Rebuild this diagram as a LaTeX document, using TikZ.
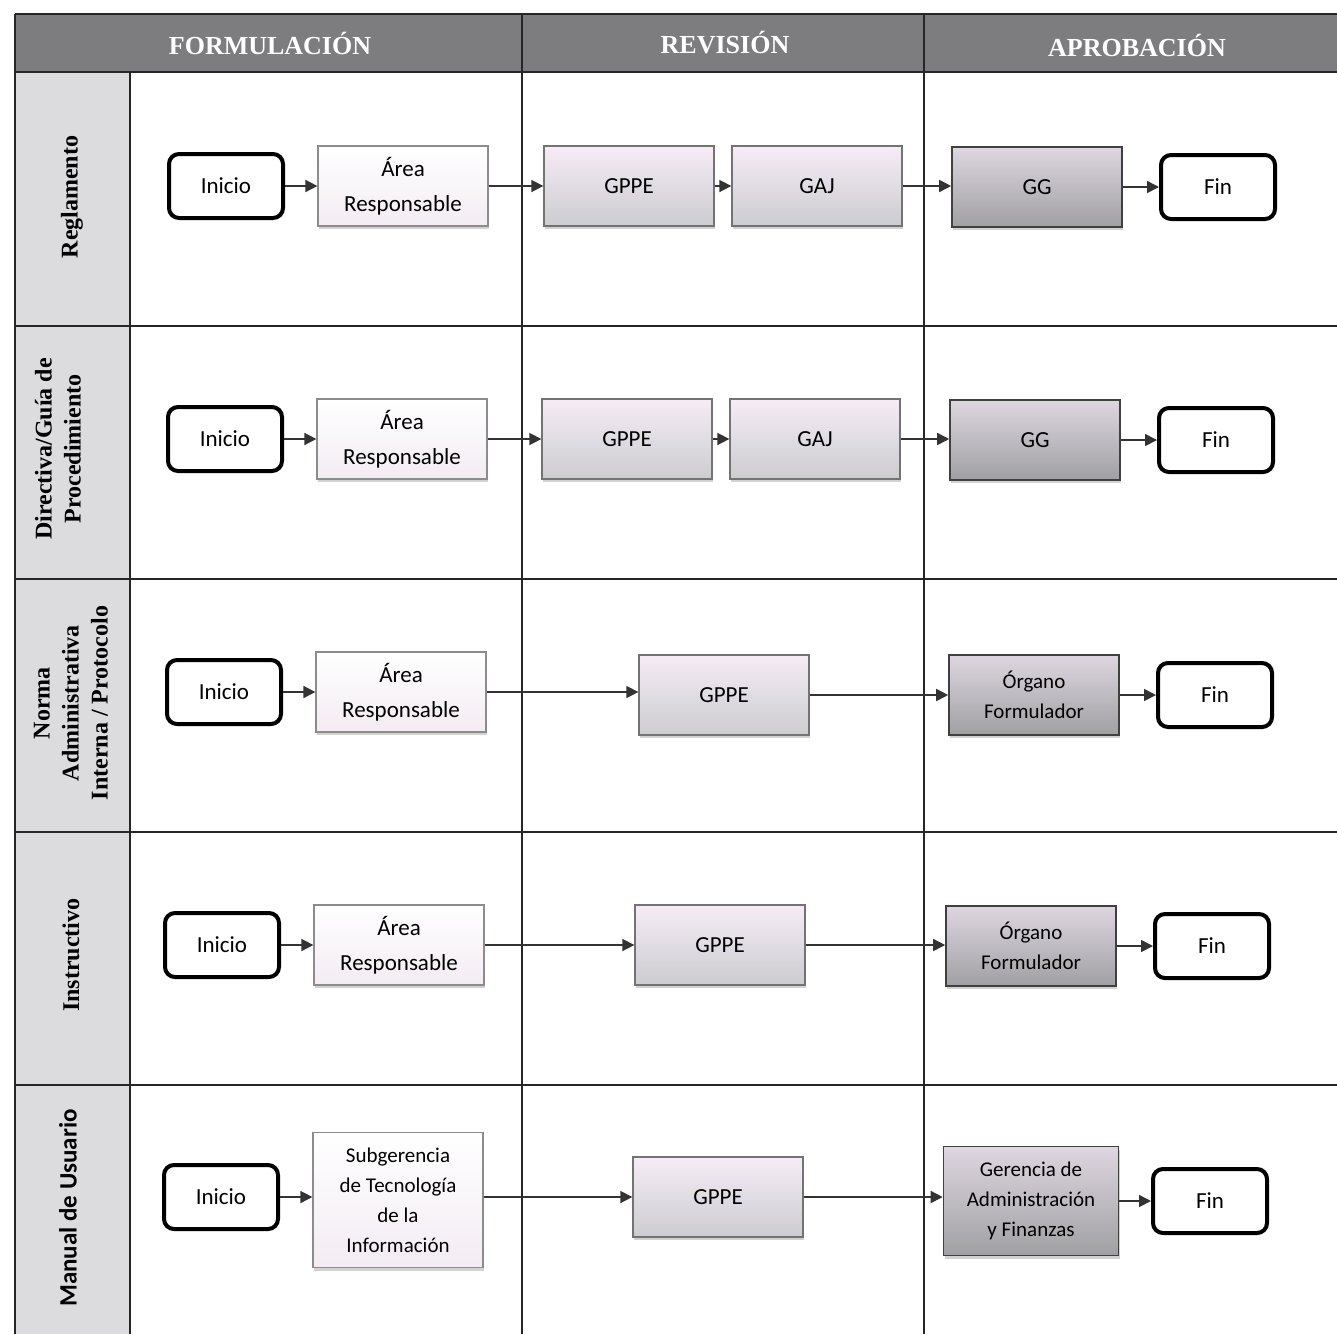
\documentclass[tikz,border=0pt]{standalone}
\usepackage{fontspec}
\setmainfont{Carlito}
\newfontfamily\tms{Liberation Serif}
\usetikzlibrary{arrows.meta,shadows}
\definecolor{hdr}{RGB}{125,125,127}
\definecolor{lane}{RGB}{220,220,223}
\definecolor{atop}{RGB}{255,255,255}
\definecolor{abot}{RGB}{243,236,243}
\definecolor{rtop}{RGB}{246,236,246}
\definecolor{rbot}{RGB}{204,204,208}
\definecolor{gtop}{RGB}{222,214,224}
\definecolor{gbot}{RGB}{160,160,163}
\begin{document}
\begin{tikzpicture}[x=1pt,y=-1pt,
  gridline/.style={line width=1.6pt, black!85},
  term/.style={draw=black, line width=4pt, rounded corners=10pt, fill=white,
    minimum width=114pt, minimum height=64pt, inner sep=0pt,
    font=\fontsize{23}{28}\selectfont},
  base/.style={minimum height=80pt, inner sep=2pt, align=center,
    drop shadow={shadow xshift=1pt, shadow yshift=-3pt, fill=black!35}},
  abox/.style={base, draw=black!45, line width=1.2pt, top color=atop, bottom color=abot,
    minimum width=170pt, font=\fontsize{23}{35}\selectfont},
  rbox/.style={base, draw=black!55, line width=1.3pt, top color=rtop, bottom color=rbot,
    minimum width=170pt, font=\fontsize{23}{30}\selectfont},
  gbox/.style={base, draw=black!75, line width=1.6pt, top color=gtop, bottom color=gbot,
    minimum width=170pt, font=\fontsize{21}{30}\selectfont},
  lanelbl/.style={rotate=90, align=center, font=\tms\bfseries\fontsize{24}{29}\selectfont},
  hdrlbl/.style={text=white, font=\tms\bfseries\fontsize{26}{30}\selectfont},
  flow/.style={-{Triangle[length=12pt,width=12pt]}, line width=1.6pt, black!80}
]
\useasboundingbox (0,0) rectangle (1337,1334);
\fill[white] (0,0) rectangle (1337,1334);
% header and lane column
\fill[hdr] (15,14) rectangle (1337,72);
\fill[lane] (15,72) rectangle (130,1334);
% grid
\draw[gridline] (15,14) -- (1337,14);
\foreach \yy in {72,326,579,832,1085} \draw[gridline] (15,\yy) -- (1337,\yy);
\draw[gridline] (15,14) -- (15,1334);
\draw[gridline] (130,72) -- (130,1334);
\draw[gridline] (522,14) -- (522,1334);
\draw[gridline] (924,14) -- (924,1334);
% headers
\node[hdrlbl] (h1) at (270,43) {FORMULACIÓN};
\node[hdrlbl] (h2) at (725,43) {REVISIÓN};
\node[hdrlbl] (h3) at (1137,45) {APROBACIÓN};
% lane labels
\node[lanelbl] (l1) at (72,197) {Reglamento};
\node[lanelbl] (l2) at (58,449) {Directiva/Guía de\\Procedimiento};
\node[lanelbl] (l3) at (71,703) {Norma\\Administrativa\\Interna / Protocolo};
\node[lanelbl] (l4) at (71,955) {Instructivo};
\node[rotate=90, font=\bfseries\fontsize{25}{29}\selectfont] (l5) at (68,1208) {Manual de Usuario};
% row 1
\node[term] (i1) at (226,186) {Inicio};
\node[abox] (a1) at (403,186) {Área\\Responsable};
\node[rbox] (p1) at (629,186) {GPPE};
\node[rbox] (j1) at (817,186) {GAJ};
\node[gbox,font=\fontsize{23}{30}\selectfont] (g1) at (1037,187) {GG};
\node[term] (f1) at (1218,187) {Fin};
\draw[flow] (i1) -- (a1);
\draw[flow] (a1) -- (p1);
\draw[flow] (p1) -- (j1);
\draw[flow] (j1) -- (j1 -| g1.west);
\draw[flow] (g1) -- (f1);
% row 2
\node[term] (i2) at (225,439) {Inicio};
\node[abox] (a2) at (402,439) {Área\\Responsable};
\node[rbox] (p2) at (627,439) {GPPE};
\node[rbox] (j2) at (815,439) {GAJ};
\node[gbox,font=\fontsize{23}{30}\selectfont] (g2) at (1035,440) {GG};
\node[term] (f2) at (1216,440) {Fin};
\draw[flow] (i2) -- (a2);
\draw[flow] (a2) -- (p2);
\draw[flow] (p2) -- (j2);
\draw[flow] (j2) -- (j2 -| g2.west);
\draw[flow] (g2) -- (f2);
% row 3
\node[term] (i3) at (224,692) {Inicio};
\node[abox] (a3) at (401,692) {Área\\Responsable};
\node[rbox] (p3) at (724,695) {GPPE};
\node[gbox] (o3) at (1034,695) {Órgano\\Formulador};
\node[term] (f3) at (1215,695) {Fin};
\draw[flow] (i3) -- (a3);
\draw[flow] (a3) -- (a3 -| p3.west);
\draw[flow] (p3) -- (o3);
\draw[flow] (o3) -- (f3);
% row 4
\node[term] (i4) at (222,945) {Inicio};
\node[abox] (a4) at (399,945) {Área\\Responsable};
\node[rbox] (p4) at (720,945) {GPPE};
\node[gbox] (o4) at (1031,946) {Órgano\\Formulador};
\node[term] (f4) at (1212,946) {Fin};
\draw[flow] (i4) -- (a4);
\draw[flow] (a4) -- (p4);
\draw[flow] (p4) -- (p4 -| o4.west);
\draw[flow] (o4) -- (f4);
% row 5
\node[term] (i5) at (221,1197) {Inicio};
\node[abox, minimum height=135pt, font=\fontsize{21}{30}\selectfont] (a5) at (398,1200) {Subgerencia\\de Tecnología\\de la\\Información};
\node[rbox] (p5) at (718,1197) {GPPE};
\node[gbox, minimum width=175pt, minimum height=109pt] (o5) at (1031,1201) {Gerencia de\\Administración\\y Finanzas};
\node[term] (f5) at (1210,1201) {Fin};
\draw[flow] (i5) -- (i5 -| a5.west);
\draw[flow] (a5.east |- p5) -- (p5);
\draw[flow] (p5) -- (p5 -| o5.west);
\draw[flow] (o5) -- (f5);
\end{tikzpicture}
\end{document}
